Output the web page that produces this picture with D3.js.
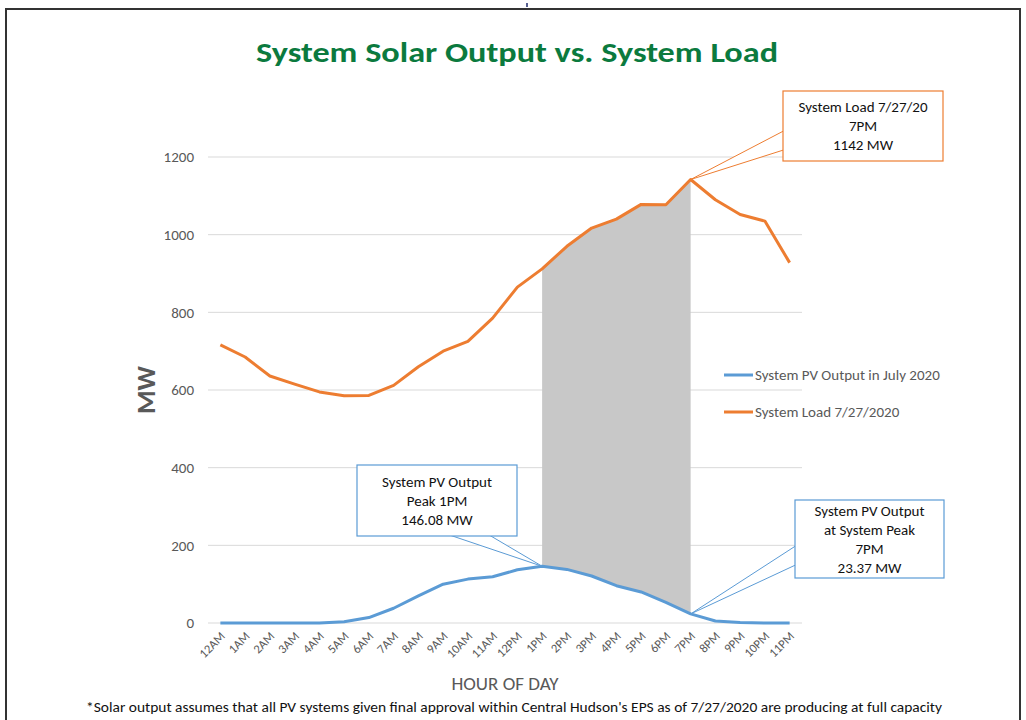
<!DOCTYPE html>
<html>
<head>
<meta charset="utf-8">
<script src="https://cdn.jsdelivr.net/npm/d3@7"></script>
<style>
  body { margin: 0; background: #fff; }
  svg { display: block; font-family: Carlito, "Open Sans", sans-serif; }
</style>
</head>
<body>
<div id="draw"></div>
<script>
var hours = ['12AM','1AM','2AM','3AM','4AM','5AM','6AM','7AM','8AM','9AM','10AM','11AM',
             '12PM','1PM','2PM','3PM','4PM','5PM','6PM','7PM','8PM','9PM','10PM','11PM'];

var pvOutput = [0, 0, 0, 0, 0, 3, 14, 38, 70, 100, 113, 119,
                137, 146.08, 138, 121, 96, 80, 53, 23.37, 5, 1, 0, 0];

var systemLoad = [716, 685, 636, 615, 595, 585, 586, 612, 660, 700, 725, 785,
                  865, 912, 970, 1017, 1040, 1078, 1077, 1142, 1090, 1052, 1035, 928];

var yTicks = [0, 200, 400, 600, 800, 1000, 1200];

var seriesNames = ['System PV Output in July 2020', 'System Load 7/27/2020'];

var shadeFrom = '1PM', shadeTo = '7PM';

var blue = '#5b9bd5', orange = '#ed7d31', gray = '#595959';

var W = 1026, H = 720;
var $svg = d3.select('#draw').append('svg').attr('width', W).attr('height', H);

// page frame
$svg.append('path')
    .attr('d', 'M6,720 V9 H1020 V720')
    .attr('fill', 'none').attr('stroke', '#333').attr('stroke-width', 2);
$svg.append('line').attr('x1', 527).attr('x2', 527).attr('y1', 3).attr('y2', 7)
    .attr('stroke', '#1f2a6b').attr('stroke-width', 1.5);

var x = d3.scalePoint().domain(hours).range([208, 802]).padding(0.5);
var y = d3.scaleLinear().domain([0, 1200]).range([623, 157]);

// title
$svg.append('text').attr('x', 517).attr('y', 62)
    .attr('text-anchor', 'middle')
    .attr('font-size', 29).attr('font-weight', 'bold').attr('fill', '#0b7a3e')
    .attr('textLength', 522).attr('lengthAdjust', 'spacingAndGlyphs')
    .text('System Solar Output vs. System Load');

// gridlines
$svg.append('g').selectAll('line').data(yTicks).enter().append('line')
    .attr('x1', 208).attr('x2', 802)
    .attr('y1', function(d){ return y(d); }).attr('y2', function(d){ return y(d); })
    .attr('stroke', '#d9d9d9').attr('stroke-width', 1);

// y axis labels
var yAxis = d3.axisLeft(y).tickValues(yTicks).tickFormat(d3.format('d')).tickSize(0).tickPadding(14);
$svg.append('g').attr('transform', 'translate(208,0)').call(yAxis)
    .call(function(g){ g.select('.domain').remove(); })
    .selectAll('text').attr('font-size', 15).attr('fill', gray)
    .attr('font-family', 'Carlito, "Open Sans", sans-serif');

// x axis labels
var xAxis = d3.axisBottom(x).tickSize(0).tickPadding(0);
var gx = $svg.append('g').attr('transform', 'translate(0,623)').call(xAxis);
gx.select('.domain').remove();
gx.selectAll('text')
    .attr('font-size', 12.5).attr('fill', gray)
    .attr('font-family', 'Carlito, "Open Sans", sans-serif')
    .attr('text-anchor', 'end').attr('dy', 0)
    .attr('transform', 'translate(5,14) rotate(-45)');

// axis titles
$svg.append('text').attr('transform', 'translate(155,390) rotate(-90)')
    .attr('text-anchor', 'middle').attr('font-size', 27).attr('font-weight', 'bold')
    .attr('fill', gray).text('MW');
$svg.append('text').attr('x', 505).attr('y', 690).attr('text-anchor', 'middle')
    .attr('font-size', 19).attr('fill', gray).text('HOUR OF DAY');

// shaded area between load and PV
var i0 = hours.indexOf(shadeFrom), i1 = hours.indexOf(shadeTo);
var shadeIdx = d3.range(i0, i1 + 1);
var area = d3.area()
    .x(function(i){ return x(hours[i]); })
    .y0(function(i){ return y(pvOutput[i]); })
    .y1(function(i){ return y(systemLoad[i]); });
$svg.append('path').datum(shadeIdx).attr('d', area).attr('fill', '#c8c8c8');

// lines
var line = d3.line().x(function(d, i){ return x(hours[i]); }).y(function(d){ return y(d); });
$svg.append('path').datum(systemLoad).attr('d', line)
    .attr('fill', 'none').attr('stroke', orange).attr('stroke-width', 3).attr('stroke-linejoin', 'round');
$svg.append('path').datum(pvOutput).attr('d', line)
    .attr('fill', 'none').attr('stroke', blue).attr('stroke-width', 3).attr('stroke-linejoin', 'round');

// legend
var legend = $svg.append('g').selectAll('g').data(seriesNames).enter().append('g')
    .attr('transform', function(d, i){ return 'translate(724,' + (375 + i * 37) + ')'; });
legend.append('line').attr('x1', 0).attr('x2', 29)
    .attr('stroke', function(d, i){ return i ? orange : blue; }).attr('stroke-width', 3);
legend.append('text').attr('x', 31).attr('dy', '0.35em')
    .attr('font-size', 15).attr('fill', gray).text(function(d){ return d; });

// callouts
function callout(bx, by, bw, bh, lines, color, tail, pt) {
    var g = $svg.append('g');
    g.append('polygon')
        .attr('points', [tail[0], [pt[0], pt[1]], tail[1]].map(function(p){ return p.join(','); }).join(' '))
        .attr('fill', '#fff').attr('stroke', color).attr('stroke-width', 1);
    g.append('rect').attr('x', bx).attr('y', by).attr('width', bw).attr('height', bh)
        .attr('fill', '#fff').attr('stroke', color).attr('stroke-width', 1.2);
    var top = by + bh / 2 - (lines.length - 1) * 19 / 2;
    g.selectAll('text').data(lines).enter().append('text')
        .attr('x', bx + bw / 2).attr('y', function(d, i){ return top + i * 19; })
        .attr('dy', '0.35em').attr('text-anchor', 'middle')
        .attr('font-size', 15).attr('fill', '#111').text(function(d){ return d; });
}

var iPeak = pvOutput.indexOf(d3.max(pvOutput));
var iLoadPeak = systemLoad.indexOf(d3.max(systemLoad));

callout(783, 91, 160, 70, ['System Load 7/27/20', hours[iLoadPeak], d3.max(systemLoad) + ' MW'],
    orange, [[783.5, 131], [783.5, 150]], [x(hours[iLoadPeak]), y(systemLoad[iLoadPeak])]);

callout(357, 465, 160, 71, ['System PV Output', 'Peak ' + hours[iPeak], pvOutput[iPeak].toFixed(2) + ' MW'],
    blue, [[451, 535.5], [490, 535.5]], [x(hours[iPeak]), y(pvOutput[iPeak])]);

callout(795, 500, 149, 78, ['System PV Output', 'at System Peak', hours[iLoadPeak], pvOutput[iLoadPeak].toFixed(2) + ' MW'],
    blue, [[795.5, 546], [795.5, 565]], [x(hours[iLoadPeak]), y(pvOutput[iLoadPeak])]);

// footnote
$svg.append('text').attr('x', 514).attr('y', 712).attr('text-anchor', 'middle')
    .attr('font-size', 14.5).attr('fill', '#111')
    .attr('textLength', 856).attr('lengthAdjust', 'spacingAndGlyphs')
    .text('*Solar output assumes that all PV systems given final approval within Central Hudson\'s EPS as of 7/27/2020 are producing at full capacity');
</script>
</body>
</html>
